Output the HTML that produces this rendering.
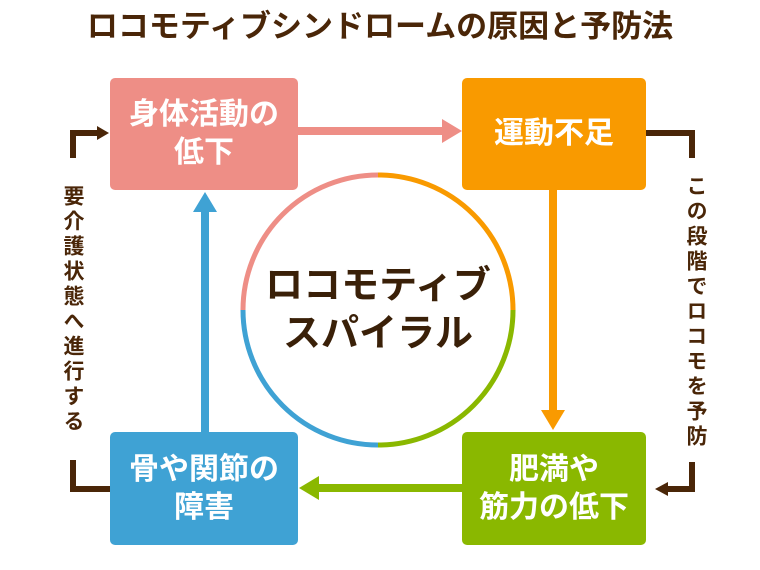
<!DOCTYPE html><html><head><meta charset="utf-8"><style>
body{margin:0;width:760px;height:570px;background:#fff;position:relative;overflow:hidden;font-family:"Liberation Sans","Noto Sans CJK JP",sans-serif}
.t{position:absolute;left:0;width:760px;top:1px;text-align:center;font-size:31px;font-weight:bold;color:#4a2608;letter-spacing:0px}
.b{position:absolute;border-radius:5px;color:#fff;font-size:30px;font-weight:bold;display:flex;align-items:center;justify-content:center;text-align:center;line-height:38px}
.v{position:absolute;writing-mode:vertical-rl;font-size:21px;color:#4a2608;font-weight:bold;letter-spacing:4px}
</style></head><body>
<div class="t">ロコモティブシンドロームの原因と予防法</div>
<svg width="760" height="570" style="position:absolute;left:0;top:0">
<path d="M378 175 A135 135 0 0 1 513 310" stroke="#f99a00" stroke-width="5" fill="none"/>
<path d="M513 310 A135 135 0 0 1 378 445" stroke="#8ab800" stroke-width="5" fill="none"/>
<path d="M378 445 A135 135 0 0 1 243 310" stroke="#3fa2d4" stroke-width="5" fill="none"/>
<path d="M243 310 A135 135 0 0 1 378 175" stroke="#ee8e86" stroke-width="5" fill="none"/>
<line x1="298" y1="131" x2="445" y2="131" stroke="#ee8e86" stroke-width="8"/><polygon points="442,119 462,131 442,143" fill="#ee8e86"/>
<line x1="553" y1="190" x2="553" y2="412" stroke="#f99a00" stroke-width="8"/><polygon points="541,410 553,430 565,410" fill="#f99a00"/>
<line x1="462" y1="488" x2="316" y2="488" stroke="#8ab800" stroke-width="8"/><polygon points="319,476 299,488 319,500" fill="#8ab800"/>
<line x1="205" y1="432" x2="205" y2="210" stroke="#3fa2d4" stroke-width="8"/><polygon points="193,212 205,192 217,212" fill="#3fa2d4"/>
<g stroke="#4a2608" stroke-width="6" fill="none">
<path d="M73 158 V133 H100"/><path d="M73 460 V489 H110"/>
<path d="M646 133 H692 V158"/><path d="M692 462 V489 H668"/>
</g>
<polygon points="97,126 109,133 97,140" fill="#4a2608"/>
<polygon points="668,482 655,489 668,496" fill="#4a2608"/>
</svg>
<div class="b" style="left:110px;top:78px;width:188px;height:112px;background:#ee8e86">身体活動の<br>低下</div>
<div class="b" style="left:462px;top:78px;width:184px;height:112px;background:#f99a00">運動不足</div>
<div class="b" style="left:110px;top:432px;width:188px;height:113px;background:#3fa2d4">骨や関節の<br>障害</div>
<div class="b" style="left:462px;top:432px;width:184px;height:113px;background:#8ab800">肥満や<br>筋力の低下</div>
<div style="position:absolute;left:243px;top:262px;width:270px;text-align:center;font-size:38px;font-weight:bold;line-height:48px;color:#3a2008">ロコモティブ<br>スパイラル</div>
<div class="v" style="left:57px;top:185px">要介護状態へ進行する</div>
<div class="v" style="left:680px;top:175px">この段階でロコモを予防</div>
</body></html>
